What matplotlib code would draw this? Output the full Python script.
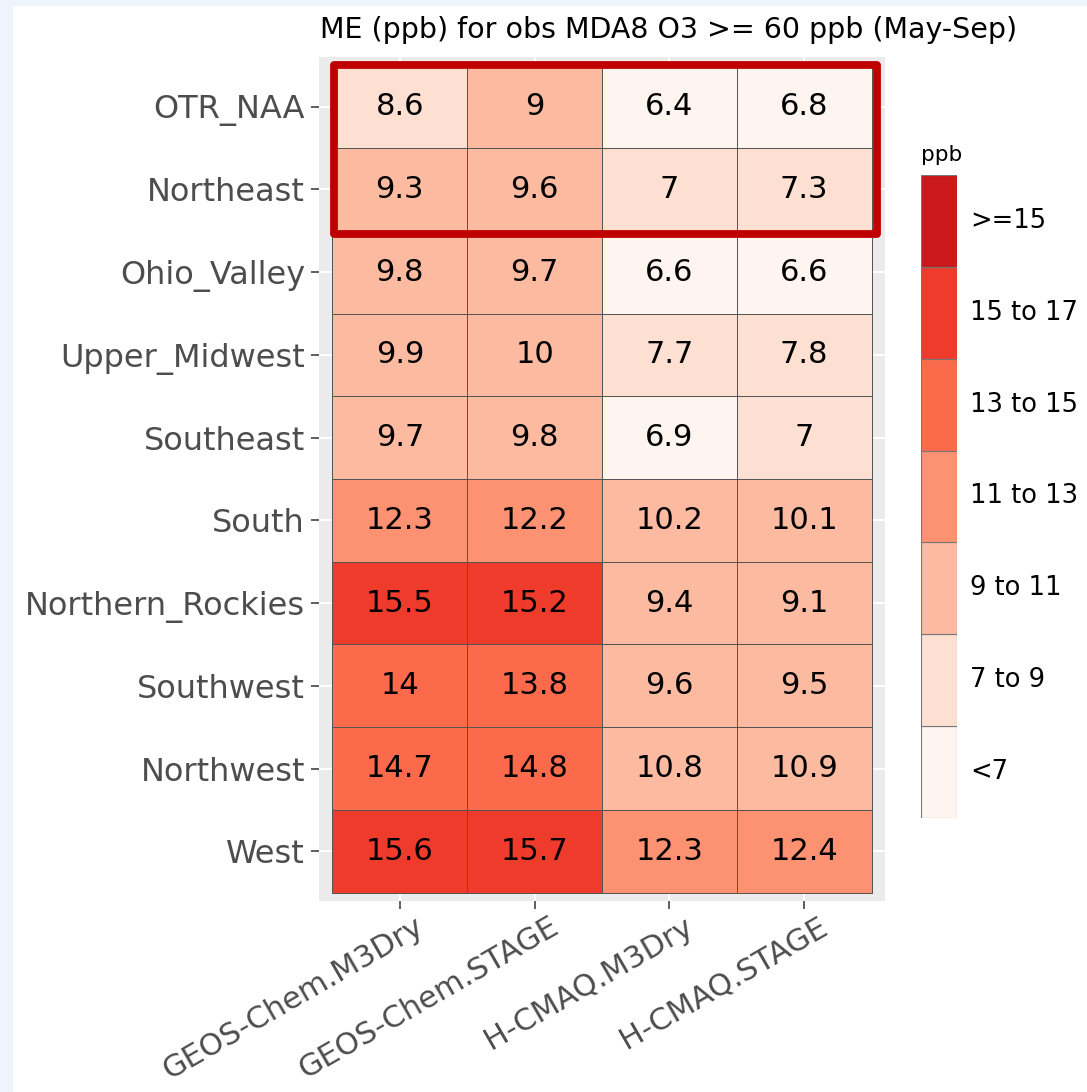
import numpy as np
import matplotlib
matplotlib.use('Agg')
import matplotlib.pyplot as plt
import matplotlib.transforms as mtransforms
from matplotlib.colors import ListedColormap, BoundaryNorm
from matplotlib.patches import Rectangle

# data
regions = ['OTR_NAA', 'Northeast', 'Ohio_Valley', 'Upper_Midwest', 'Southeast',
           'South', 'Northern_Rockies', 'Southwest', 'Northwest', 'West']
models = ['GEOS-Chem.M3Dry', 'GEOS-Chem.STAGE', 'H-CMAQ.M3Dry', 'H-CMAQ.STAGE']
gc_m3dry = [8.6, 9.3, 9.8, 9.9, 9.7, 12.3, 15.5, 14.0, 14.7, 15.6]
gc_stage = [9.0, 9.6, 9.7, 10.0, 9.8, 12.2, 15.2, 13.8, 14.8, 15.7]
cmaq_m3dry = [6.4, 7.0, 6.6, 7.7, 6.9, 10.2, 9.4, 9.6, 10.8, 12.3]
cmaq_stage = [6.8, 7.3, 6.6, 7.8, 7.0, 10.1, 9.1, 9.5, 10.9, 12.4]

bin_edges = [-100, 7, 9, 11, 13, 15, 17, 100]
bin_labels = ['<7', '7 to 9', '9 to 11', '11 to 13', '13 to 15', '15 to 17', '>=15']
bin_colors = ['#fff5f0', '#fee0d2', '#fcbba1', '#fc9272', '#fb6a4a', '#ef3b2c', '#cb181d']

vals = np.array([gc_m3dry, gc_stage, cmaq_m3dry, cmaq_stage]).T

W, H = 1087, 1092
fig = plt.figure(figsize=(W / 100, H / 100), dpi=100)
fig.patch.set_facecolor('#eef3fc')
fig.patches.append(Rectangle((13 / W, 0), 1, 1 - 6 / H, transform=fig.transFigure,
                             facecolor='white', edgecolor='none', zorder=-10))

ax = fig.add_axes([319 / W, 1 - 901 / H, 566 / W, 844 / H])
ax.set_facecolor('#ebebeb')
cmap = ListedColormap(bin_colors)
norm = BoundaryNorm(bin_edges, cmap.N)
ax.pcolormesh(np.arange(5) - 0.5, np.arange(11) - 0.5, vals, cmap=cmap, norm=norm,
              edgecolors='#555555', linewidth=0.6, zorder=2)
for i in range(len(regions)):
    for j in range(len(models)):
        ax.text(j, i, f'{vals[i, j]:g}', ha='center', va='center', fontsize=22,
                color='black', zorder=3)

ax.set_xlim(-0.6, 3.6)
ax.set_ylim(9.6, -0.6)
ax.set_xticks(range(len(models)))
ax.set_xticklabels(models, rotation=30, ha='right', va='top', rotation_mode='anchor',
                   fontsize=22, color='#4d4d4d')
ax.set_yticks(range(len(regions)))
ax.set_yticklabels(regions, fontsize=23, color='#4d4d4d')
ax.tick_params(length=6, width=1.1, color='#333333', pad=4)
ax.tick_params(axis='x', pad=2)
shift = mtransforms.ScaledTranslation(14 / 100, 0, fig.dpi_scale_trans)
for lab in ax.get_xticklabels():
    lab.set_transform(lab.get_transform() + shift)
ax.grid(True, color='white', linewidth=1.5, zorder=0)
ax.set_axisbelow(True)
for s in ax.spines.values():
    s.set_visible(False)

box = Rectangle((-0.49, -0.5), 4.03, 2.04, fill=False, edgecolor='#c00000',
                linewidth=5.6, joinstyle='round', zorder=5, clip_on=False)
ax.add_patch(box)

fig.text(320 / W, 1 - 30 / H, 'ME (ppb) for obs MDA8 O3 >= 60 ppb (May-Sep)',
         fontsize=20.5, ha='left', va='center', color='black')

# legend
lax = fig.add_axes([921 / W, 1 - 818 / H, 36 / W, 643 / H])
for k, c in enumerate(bin_colors):
    lax.add_patch(Rectangle((0, k), 1, 1, facecolor=c, edgecolor='#777777', linewidth=0.8))
    fig.text(970 / W, (1 - 818 / H) + (k + 0.5) * (643 / H) / len(bin_colors),
             bin_labels[k], fontsize=18.5, ha='left', va='center', color='black')
lax.set_xlim(0, 1)
lax.set_ylim(0, len(bin_colors))
lax.axis('off')
fig.text(921 / W, 1 - 155 / H, 'ppb', fontsize=15.5, ha='left', va='center', color='black')

fig.savefig('out.png', dpi=100, facecolor=fig.get_facecolor())
